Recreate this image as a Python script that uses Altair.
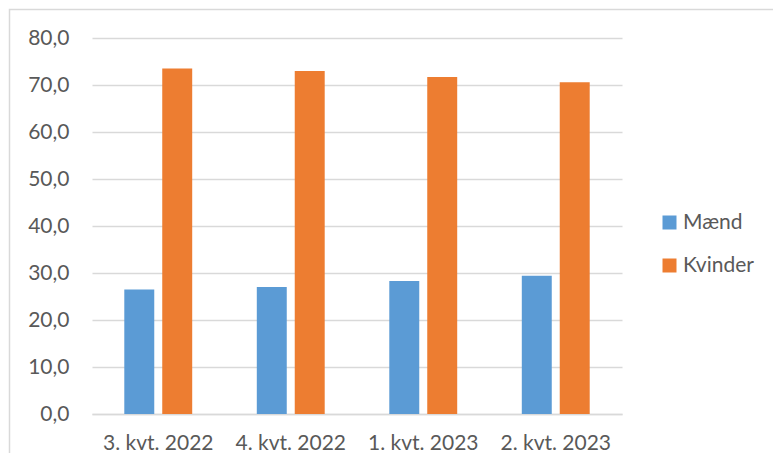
import altair as alt
import pandas as pd

quarters = ["3. kvt. 2022", "4. kvt. 2022", "1. kvt. 2023", "2. kvt. 2023"]
maend = [26.5, 27.0, 28.3, 29.4]
kvinder = [73.5, 73.0, 71.7, 70.6]
series = ["Mænd", "Kvinder"]
colors = ["#5B9BD5", "#ED7D31"]
title_text = "gangen af 1. halvår 2023, pct."

rows = []
for q, m, k in zip(quarters, maend, kvinder):
    rows.append({"kvartal": q, "køn": series[0], "pct": m})
    rows.append({"kvartal": q, "køn": series[1], "pct": k})
df = pd.DataFrame(rows)

FONT = "Lato"
GRAY = "#595959"
GRID = "#D9D9D9"

bars = alt.Chart(df).mark_bar().encode(
    x=alt.X(
        "kvartal:N",
        sort=quarters,
        scale=alt.Scale(paddingInner=0.4875, paddingOuter=0.24375),
        axis=alt.Axis(
            title=None, labelAngle=0, ticks=False, domain=True,
            domainColor=GRID, domainWidth=1.5,
            labelFont=FONT, labelFontSize=21, labelColor=GRAY, labelPadding=18,
        ),
    ),
    xOffset=alt.XOffset(
        "køn:N", sort=series,
        scale=alt.Scale(paddingInner=8 / 38, paddingOuter=0),
    ),
    y=alt.Y(
        "pct:Q",
        scale=alt.Scale(domain=[0, 80]),
        axis=alt.Axis(
            title=None, values=list(range(0, 81, 10)),
            labelExpr="replace(format(datum.value, '.1f'), '.', ',')",
            ticks=False, domain=False, gridColor=GRID, gridWidth=1.5,
            labelFont=FONT, labelFontSize=21, labelColor=GRAY, labelPadding=23,
        ),
    ),
    color=alt.Color(
        "køn:N", sort=series,
        scale=alt.Scale(domain=series, range=colors),
        legend=alt.Legend(
            title=None, orient="none", legendX=567, legendY=174, padding=0,
            symbolType="square", symbolSize=196, symbolStrokeWidth=0,
            labelFont=FONT, labelFontSize=21, labelColor=GRAY,
            labelOffset=3, rowPadding=21,
        ),
    ),
)

one = pd.DataFrame({"t": [title_text]})

frame = alt.Chart(one).mark_rect(
    fillOpacity=0, stroke=GRID, strokeWidth=1.5
).encode(
    x=alt.value(-82.5), x2=alt.value(730), y=alt.value(-28.5), y2=alt.value(480)
)

title = alt.Chart(one).mark_text(
    align="left", baseline="alphabetic", font=FONT, fontWeight="bold",
    fontSize=22, color="black"
).encode(
    x=alt.value(-82), y=alt.value(-34), text="t:N"
)

chart = alt.layer(frame, bars, title).properties(
    width=530, height=376,
    autosize=alt.AutoSizeParams(type="none"),
    padding={"left": 84, "top": 30, "right": 151, "bottom": 39},
).configure_view(stroke=None)

chart.save("out.html", embed_options={"renderer": "svg", "actions": False})
